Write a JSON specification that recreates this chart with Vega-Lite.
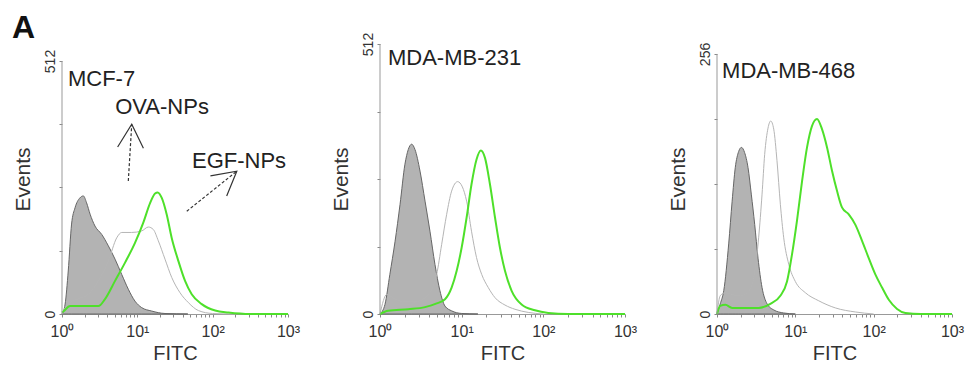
{
  "$schema": "https://vega.github.io/schema/vega-lite/v6.json",
  "background": "white",
  "padding": {"left": 12, "top": 12, "right": 5, "bottom": 5},
  "bounds": "flush",
  "spacing": 92,
  "config": {
    "view": {"stroke": null},
    "font": "Liberation Sans",
    "axis": {"grid": false, "labelFont": "Liberation Sans", "titleFont": "Liberation Sans", "labelColor": "#333", "titleColor": "#333", "titleFontWeight": "normal", "tickColor": "#888", "domainColor": "#999", "labelOverlap": false, "labelFlush": false}
  },
  "datasets": {
    "curves": [
      {"p":1,"s":"ctrl","x":1,"y":0},{"p":1,"s":"ctrl","x":1.1,"y":20},{"p":1,"s":"ctrl","x":1.21,"y":87},{"p":1,"s":"ctrl","x":1.34,"y":182},{"p":1,"s":"ctrl","x":1.49,"y":215},{"p":1,"s":"ctrl","x":1.73,"y":235},{"p":1,"s":"ctrl","x":1.92,"y":239},{"p":1,"s":"ctrl","x":2.12,"y":225},{"p":1,"s":"ctrl","x":2.36,"y":202},{"p":1,"s":"ctrl","x":2.74,"y":178},{"p":1,"s":"ctrl","x":3.37,"y":161},{"p":1,"s":"ctrl","x":4.12,"y":138},{"p":1,"s":"ctrl","x":5.06,"y":111},{"p":1,"s":"ctrl","x":6.21,"y":80},{"p":1,"s":"ctrl","x":7.6,"y":50},{"p":1,"s":"ctrl","x":9.31,"y":26},{"p":1,"s":"ctrl","x":11.4,"y":13},{"p":1,"s":"ctrl","x":15.5,"y":6},{"p":1,"s":"ctrl","x":23.3,"y":1},{"p":1,"s":"ctrl","x":46.8,"y":0},
      {"p":1,"s":"ova","x":1,"y":0},{"p":1,"s":"ova","x":1.04,"y":6},{"p":1,"s":"ova","x":1.28,"y":23},{"p":1,"s":"ova","x":1.65,"y":31},{"p":1,"s":"ova","x":2.24,"y":40},{"p":1,"s":"ova","x":3.04,"y":67},{"p":1,"s":"ova","x":4.12,"y":107},{"p":1,"s":"ova","x":5.32,"y":154},{"p":1,"s":"ova","x":6.21,"y":165},{"p":1,"s":"ova","x":8.41,"y":165},{"p":1,"s":"ova","x":11.4,"y":168},{"p":1,"s":"ova","x":14,"y":176},{"p":1,"s":"ova","x":16.3,"y":171},{"p":1,"s":"ova","x":19,"y":148},{"p":1,"s":"ova","x":23.3,"y":111},{"p":1,"s":"ova","x":28.6,"y":74},{"p":1,"s":"ova","x":36.9,"y":43},{"p":1,"s":"ova","x":47.6,"y":23},{"p":1,"s":"ova","x":64.6,"y":7},{"p":1,"s":"ova","x":100,"y":1},{"p":1,"s":"ova","x":200,"y":0},
      {"p":1,"s":"egf","x":1,"y":3},{"p":1,"s":"egf","x":1.04,"y":5},{"p":1,"s":"egf","x":1.28,"y":16},{"p":1,"s":"egf","x":3.04,"y":16},{"p":1,"s":"egf","x":3.72,"y":30},{"p":1,"s":"egf","x":5.06,"y":67},{"p":1,"s":"egf","x":6.87,"y":104},{"p":1,"s":"egf","x":9.31,"y":144},{"p":1,"s":"egf","x":12,"y":185},{"p":1,"s":"egf","x":14.8,"y":225},{"p":1,"s":"egf","x":17.2,"y":244},{"p":1,"s":"egf","x":18.6,"y":246},{"p":1,"s":"egf","x":21.1,"y":235},{"p":1,"s":"egf","x":24.5,"y":202},{"p":1,"s":"egf","x":28.6,"y":154},{"p":1,"s":"egf","x":35.1,"y":107},{"p":1,"s":"egf","x":43,"y":67},{"p":1,"s":"egf","x":52.7,"y":40},{"p":1,"s":"egf","x":71.6,"y":20},{"p":1,"s":"egf","x":108,"y":7},{"p":1,"s":"egf","x":162,"y":3},{"p":1,"s":"egf","x":316,"y":0},{"p":1,"s":"egf","x":1000,"y":0},
      {"p":2,"s":"ctrl","x":1,"y":0},{"p":2,"s":"ctrl","x":1.15,"y":18},{"p":2,"s":"ctrl","x":1.32,"y":75},{"p":2,"s":"ctrl","x":1.53,"y":138},{"p":2,"s":"ctrl","x":1.76,"y":208},{"p":2,"s":"ctrl","x":2.02,"y":284},{"p":2,"s":"ctrl","x":2.22,"y":312},{"p":2,"s":"ctrl","x":2.44,"y":322},{"p":2,"s":"ctrl","x":2.68,"y":312},{"p":2,"s":"ctrl","x":3.09,"y":271},{"p":2,"s":"ctrl","x":3.56,"y":214},{"p":2,"s":"ctrl","x":4.09,"y":157},{"p":2,"s":"ctrl","x":4.71,"y":94},{"p":2,"s":"ctrl","x":5.42,"y":44},{"p":2,"s":"ctrl","x":6.25,"y":15},{"p":2,"s":"ctrl","x":7.53,"y":6},{"p":2,"s":"ctrl","x":10,"y":1},{"p":2,"s":"ctrl","x":15.8,"y":0},
      {"p":2,"s":"ova","x":1,"y":0},{"p":2,"s":"ova","x":1.21,"y":37},{"p":2,"s":"ova","x":1.53,"y":28},{"p":2,"s":"ova","x":2.02,"y":23},{"p":2,"s":"ova","x":2.68,"y":23},{"p":2,"s":"ova","x":3.56,"y":31},{"p":2,"s":"ova","x":4.3,"y":47},{"p":2,"s":"ova","x":4.94,"y":75},{"p":2,"s":"ova","x":5.69,"y":132},{"p":2,"s":"ova","x":6.55,"y":189},{"p":2,"s":"ova","x":7.53,"y":233},{"p":2,"s":"ova","x":8.93,"y":251},{"p":2,"s":"ova","x":10.2,"y":241},{"p":2,"s":"ova","x":11.5,"y":214},{"p":2,"s":"ova","x":13.2,"y":157},{"p":2,"s":"ova","x":15.2,"y":107},{"p":2,"s":"ova","x":17.6,"y":75},{"p":2,"s":"ova","x":21.2,"y":50},{"p":2,"s":"ova","x":25.6,"y":31},{"p":2,"s":"ova","x":33.9,"y":17},{"p":2,"s":"ova","x":44.9,"y":9},{"p":2,"s":"ova","x":65.3,"y":3},{"p":2,"s":"ova","x":100,"y":0},
      {"p":2,"s":"egf","x":1,"y":0},{"p":2,"s":"egf","x":1.26,"y":6},{"p":2,"s":"egf","x":2.22,"y":9},{"p":2,"s":"egf","x":3.56,"y":13},{"p":2,"s":"egf","x":4.94,"y":20},{"p":2,"s":"egf","x":6.25,"y":28},{"p":2,"s":"egf","x":7.53,"y":50},{"p":2,"s":"egf","x":8.69,"y":82},{"p":2,"s":"egf","x":10,"y":126},{"p":2,"s":"egf","x":11.5,"y":183},{"p":2,"s":"egf","x":13.2,"y":246},{"p":2,"s":"egf","x":15.2,"y":293},{"p":2,"s":"egf","x":17.2,"y":310},{"p":2,"s":"egf","x":19.3,"y":296},{"p":2,"s":"egf","x":22.2,"y":246},{"p":2,"s":"egf","x":25.6,"y":183},{"p":2,"s":"egf","x":29.4,"y":126},{"p":2,"s":"egf","x":33.9,"y":82},{"p":2,"s":"egf","x":40.9,"y":44},{"p":2,"s":"egf","x":54.2,"y":18},{"p":2,"s":"egf","x":78.9,"y":7},{"p":2,"s":"egf","x":115,"y":2},{"p":2,"s":"egf","x":200,"y":0},{"p":2,"s":"egf","x":1000,"y":0},
      {"p":3,"s":"ctrl","x":1,"y":0},{"p":3,"s":"ctrl","x":1.1,"y":10},{"p":3,"s":"ctrl","x":1.22,"y":23},{"p":3,"s":"ctrl","x":1.41,"y":69},{"p":3,"s":"ctrl","x":1.56,"y":111},{"p":3,"s":"ctrl","x":1.71,"y":144},{"p":3,"s":"ctrl","x":1.89,"y":160},{"p":3,"s":"ctrl","x":2.05,"y":164},{"p":3,"s":"ctrl","x":2.25,"y":159},{"p":3,"s":"ctrl","x":2.49,"y":144},{"p":3,"s":"ctrl","x":2.74,"y":118},{"p":3,"s":"ctrl","x":3.03,"y":88},{"p":3,"s":"ctrl","x":3.34,"y":55},{"p":3,"s":"ctrl","x":3.76,"y":26},{"p":3,"s":"ctrl","x":4.36,"y":10},{"p":3,"s":"ctrl","x":5.3,"y":4},{"p":3,"s":"ctrl","x":7.11,"y":1},{"p":3,"s":"ctrl","x":10,"y":0},
      {"p":3,"s":"ova","x":1,"y":0},{"p":3,"s":"ova","x":1.1,"y":18},{"p":3,"s":"ova","x":1.28,"y":21},{"p":3,"s":"ova","x":1.56,"y":19},{"p":3,"s":"ova","x":1.99,"y":18},{"p":3,"s":"ova","x":2.42,"y":21},{"p":3,"s":"ova","x":2.8,"y":29},{"p":3,"s":"ova","x":3.09,"y":46},{"p":3,"s":"ova","x":3.4,"y":75},{"p":3,"s":"ova","x":3.76,"y":118},{"p":3,"s":"ova","x":4.06,"y":157},{"p":3,"s":"ova","x":4.48,"y":183},{"p":3,"s":"ova","x":4.85,"y":190},{"p":3,"s":"ova","x":5.3,"y":182},{"p":3,"s":"ova","x":5.83,"y":151},{"p":3,"s":"ova","x":6.44,"y":108},{"p":3,"s":"ova","x":7.11,"y":75},{"p":3,"s":"ova","x":8.24,"y":49},{"p":3,"s":"ova","x":10,"y":32},{"p":3,"s":"ova","x":13.4,"y":21},{"p":3,"s":"ova","x":19.9,"y":13},{"p":3,"s":"ova","x":32.4,"y":6},{"p":3,"s":"ova","x":58.3,"y":2},{"p":3,"s":"ova","x":100,"y":0},
      {"p":3,"s":"egf","x":1,"y":0},{"p":3,"s":"egf","x":1.1,"y":8},{"p":3,"s":"egf","x":1.28,"y":9},{"p":3,"s":"egf","x":1.56,"y":6},{"p":3,"s":"egf","x":2.3,"y":6},{"p":3,"s":"egf","x":3.4,"y":6},{"p":3,"s":"egf","x":4.8,"y":10},{"p":3,"s":"egf","x":6.44,"y":18},{"p":3,"s":"egf","x":7.83,"y":32},{"p":3,"s":"egf","x":9.08,"y":59},{"p":3,"s":"egf","x":10.5,"y":92},{"p":3,"s":"egf","x":12.2,"y":131},{"p":3,"s":"egf","x":14.1,"y":164},{"p":3,"s":"egf","x":16.3,"y":185},{"p":3,"s":"egf","x":18.9,"y":192},{"p":3,"s":"egf","x":21.9,"y":182},{"p":3,"s":"egf","x":25.4,"y":164},{"p":3,"s":"egf","x":29.4,"y":141},{"p":3,"s":"egf","x":34.1,"y":121},{"p":3,"s":"egf","x":39.4,"y":105},{"p":3,"s":"egf","x":48.1,"y":98},{"p":3,"s":"egf","x":58.3,"y":88},{"p":3,"s":"egf","x":71.1,"y":72},{"p":3,"s":"egf","x":86.5,"y":55},{"p":3,"s":"egf","x":105,"y":39},{"p":3,"s":"egf","x":128,"y":26},{"p":3,"s":"egf","x":156,"y":14},{"p":3,"s":"egf","x":199,"y":5},{"p":3,"s":"egf","x":254,"y":1},{"p":3,"s":"egf","x":398,"y":0},{"p":3,"s":"egf","x":1000,"y":0}
    ],
    "labels": [
      {"p":1,"kind":"cell","text":"MCF-7","x":1.2,"y":475},
      {"p":1,"kind":"ann","text":"OVA-NPs","x":21.3,"y":419},
      {"p":1,"kind":"ann","text":"EGF-NPs","x":224,"y":310},
      {"p":2,"kind":"cell","text":"MDA-MB-231","x":1.25,"y":485},
      {"p":3,"kind":"cell","text":"MDA-MB-468","x":1.16,"y":239}
    ],
    "arrows": [
      {"p":1,"name":"ova","x":7.59,"y":269,"x2":8.43,"y2":384},
      {"p":1,"name":"egf","x":45.3,"y":208,"x2":209,"y2":289}
    ],
    "yaxis": [
      {"p":1,"x":1,"y":0,"y2":512},
      {"p":2,"x":1,"y":0,"y2":512},
      {"p":3,"x":1,"y":0,"y2":256}
    ]
  },
  "hconcat": [
    {
      "width": 226, "height": 270,
      "title": {"text": "A", "anchor": "start", "frame": "group", "font": "Liberation Sans", "fontSize": 32, "fontWeight": "bold", "color": "#111", "dx": -50, "offset": -1},
      "encoding": {
        "x": {"field": "x", "type": "quantitative", "scale": {"type": "log", "domain": [1, 1000], "nice": false},
          "axis": {"title": "FITC", "titleFontSize": 20, "titlePadding": 4, "labelFontSize": 16, "labelPadding": 6, "tickSize": 3, "values": [1,2,3,4,5,6,7,8,9,10,20,30,40,50,60,70,80,90,100,200,300,400,500,600,700,800,900,1000], "labelExpr": "datum.value == 1 ? '10⁰' : datum.value == 10 ? '10¹' : datum.value == 100 ? '10²' : datum.value == 1000 ? '10³' : ''"}},
        "y": {"field": "y", "type": "quantitative", "scale": {"domain": [0, 546.4], "nice": false},
          "axis": {"title": "Events", "titleFontSize": 21, "titlePadding": 10, "labelFontSize": 14, "labelAngle": -90, "labelAlign": "center", "labelBaseline": "bottom", "labelPadding": 2, "tickSize": 3, "domain": false, "values": [0,128,256,384,512], "labelExpr": "datum.value == 0 || datum.value == 512 ? datum.label : ''"}}
      },
      "layer": [
        {"data": {"name": "curves"}, "transform": [{"filter": "datum.p == 1 && datum.s == 'ctrl'"}], "mark": {"type": "area", "interpolate": "monotone", "fill": "#b3b3b3", "fillOpacity": 1, "stroke": "#666", "strokeWidth": 1}},
        {"data": {"name": "curves"}, "transform": [{"filter": "datum.p == 1 && datum.s == 'ova'"}], "mark": {"type": "line", "interpolate": "monotone", "color": "#b5b5b5", "strokeWidth": 1}},
        {"data": {"name": "curves"}, "transform": [{"filter": "datum.p == 1 && datum.s == 'egf'"}], "mark": {"type": "line", "interpolate": "monotone", "color": "#4ee02a", "strokeWidth": 2}},
        {"data": {"name": "yaxis"}, "transform": [{"filter": "datum.p == 1"}], "mark": {"type": "rule", "color": "#999", "strokeWidth": 1}, "encoding": {"y2": {"field": "y2"}}},
        {"data": {"name": "arrows"}, "transform": [{"filter": "datum.p == 1"}], "mark": {"type": "rule", "color": "#333", "strokeWidth": 1.2, "strokeDash": [3, 2]}, "encoding": {"x2": {"field": "x2"}, "y2": {"field": "y2"}}},
        {"data": {"name": "arrows"}, "transform": [{"filter": "datum.p == 1 && datum.name == 'ova'"}], "mark": {"type": "point", "shape": "M -0.55 1 L 0 0 L 0.55 1", "size": 2200, "angle": 3, "filled": false, "color": "#333", "strokeWidth": 1.2, "opacity": 1}, "encoding": {"x": {"field": "x2", "type": "quantitative"}, "y": {"field": "y2", "type": "quantitative"}}},
        {"data": {"name": "arrows"}, "transform": [{"filter": "datum.p == 1 && datum.name == 'egf'"}], "mark": {"type": "point", "shape": "M -0.55 1 L 0 0 L 0.55 1", "size": 2200, "angle": 51, "filled": false, "color": "#333", "strokeWidth": 1.2, "opacity": 1}, "encoding": {"x": {"field": "x2", "type": "quantitative"}, "y": {"field": "y2", "type": "quantitative"}}},
        {"data": {"name": "labels"}, "transform": [{"filter": "datum.p == 1 && datum.kind == 'cell'"}], "mark": {"type": "text", "align": "left", "baseline": "middle", "fontSize": 22, "color": "#222"}, "encoding": {"text": {"field": "text"}}},
        {"data": {"name": "labels"}, "transform": [{"filter": "datum.p == 1 && datum.kind == 'ann'"}], "mark": {"type": "text", "align": "center", "baseline": "middle", "fontSize": 22, "color": "#222"}, "encoding": {"text": {"field": "text"}}}
      ]
    },
    {
      "width": 245, "height": 270,
      "encoding": {
        "x": {"field": "x", "type": "quantitative", "scale": {"type": "log", "domain": [1, 1000], "nice": false},
          "axis": {"title": "FITC", "titleFontSize": 20, "titlePadding": 4, "labelFontSize": 16, "labelPadding": 6, "tickSize": 3, "values": [1,2,3,4,5,6,7,8,9,10,20,30,40,50,60,70,80,90,100,200,300,400,500,600,700,800,900,1000], "labelExpr": "datum.value == 1 ? '10⁰' : datum.value == 10 ? '10¹' : datum.value == 100 ? '10²' : datum.value == 1000 ? '10³' : ''"}},
        "y": {"field": "y", "type": "quantitative", "scale": {"domain": [0, 512], "nice": false},
          "axis": {"title": "Events", "titleFontSize": 21, "titlePadding": 10, "labelFontSize": 14, "labelAngle": -90, "labelAlign": "center", "labelBaseline": "bottom", "labelPadding": 2, "tickSize": 3, "domain": false, "values": [0,128,256,384,512], "labelExpr": "datum.value == 0 || datum.value == 512 ? datum.label : ''"}}
      },
      "layer": [
        {"data": {"name": "curves"}, "transform": [{"filter": "datum.p == 2 && datum.s == 'ctrl'"}], "mark": {"type": "area", "interpolate": "monotone", "fill": "#b3b3b3", "fillOpacity": 1, "stroke": "#666", "strokeWidth": 1}},
        {"data": {"name": "curves"}, "transform": [{"filter": "datum.p == 2 && datum.s == 'ova'"}], "mark": {"type": "line", "interpolate": "monotone", "color": "#b5b5b5", "strokeWidth": 1}},
        {"data": {"name": "curves"}, "transform": [{"filter": "datum.p == 2 && datum.s == 'egf'"}], "mark": {"type": "line", "interpolate": "monotone", "color": "#4ee02a", "strokeWidth": 2}},
        {"data": {"name": "yaxis"}, "transform": [{"filter": "datum.p == 2"}], "mark": {"type": "rule", "color": "#999", "strokeWidth": 1}, "encoding": {"y2": {"field": "y2"}}},
        {"data": {"name": "labels"}, "transform": [{"filter": "datum.p == 2"}], "mark": {"type": "text", "align": "left", "baseline": "middle", "fontSize": 22, "color": "#222"}, "encoding": {"text": {"field": "text"}}}
      ]
    },
    {
      "width": 235, "height": 270,
      "encoding": {
        "x": {"field": "x", "type": "quantitative", "scale": {"type": "log", "domain": [1, 1000], "nice": false},
          "axis": {"title": "FITC", "titleFontSize": 20, "titlePadding": 4, "labelFontSize": 16, "labelPadding": 6, "tickSize": 3, "values": [1,2,3,4,5,6,7,8,9,10,20,30,40,50,60,70,80,90,100,200,300,400,500,600,700,800,900,1000], "labelExpr": "datum.value == 1 ? '10⁰' : datum.value == 10 ? '10¹' : datum.value == 100 ? '10²' : datum.value == 1000 ? '10³' : ''"}},
        "y": {"field": "y", "type": "quantitative", "scale": {"domain": [0, 265.8], "nice": false},
          "axis": {"title": "Events", "titleFontSize": 21, "titlePadding": 10, "labelFontSize": 14, "labelAngle": -90, "labelAlign": "center", "labelBaseline": "bottom", "labelPadding": 2, "tickSize": 3, "domain": false, "values": [0,64,128,192,256], "labelExpr": "datum.value == 0 || datum.value == 256 ? datum.label : ''"}}
      },
      "layer": [
        {"data": {"name": "curves"}, "transform": [{"filter": "datum.p == 3 && datum.s == 'ctrl'"}], "mark": {"type": "area", "interpolate": "monotone", "fill": "#b3b3b3", "fillOpacity": 1, "stroke": "#666", "strokeWidth": 1}},
        {"data": {"name": "curves"}, "transform": [{"filter": "datum.p == 3 && datum.s == 'ova'"}], "mark": {"type": "line", "interpolate": "monotone", "color": "#b5b5b5", "strokeWidth": 1}},
        {"data": {"name": "curves"}, "transform": [{"filter": "datum.p == 3 && datum.s == 'egf'"}], "mark": {"type": "line", "interpolate": "monotone", "color": "#4ee02a", "strokeWidth": 2}},
        {"data": {"name": "yaxis"}, "transform": [{"filter": "datum.p == 3"}], "mark": {"type": "rule", "color": "#999", "strokeWidth": 1}, "encoding": {"y2": {"field": "y2"}}},
        {"data": {"name": "labels"}, "transform": [{"filter": "datum.p == 3"}], "mark": {"type": "text", "align": "left", "baseline": "middle", "fontSize": 22, "color": "#222"}, "encoding": {"text": {"field": "text"}}}
      ]
    }
  ]
}
